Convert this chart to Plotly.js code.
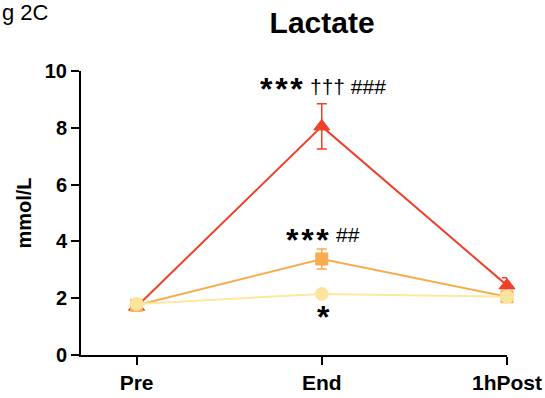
<!DOCTYPE html>
<html>
<head>
<meta charset="utf-8">
<script src="https://cdn.plot.ly/plotly-3.0.1.min.js"></script>
<style>html,body{margin:0;padding:0;background:#fff;}#chart{width:545px;height:398px;}</style>
</head>
<body>
<div id="chart"></div>
<script>
const categories = ["Pre", "End", "1hPost"];
const redValues = [1.7, 8.05, 2.45];
const redErrors = [0.08, 0.8, 0.27];
const orangeValues = [1.75, 3.38, 2.05];
const orangeErrors = [0.08, 0.35, 0.1];
const yellowValues = [1.8, 2.15, 2.05];
const yellowErrors = [0.08, 0.13, 0.08];
const yTicks = [0, 2, 4, 6, 8, 10];
// significance marks: stars part and other symbols part
const sigStars = ["***", "***", "*"];
const sigStarX = [0.909, 1.05, 1.007];
const sigStarY = [9.38, 4.05, 1.33];
const sigStarAnchor = ["right", "right", "center"];
const sigMarks = ["††† ###", "##"];
const sigMarkX = [0.926, 1.066];
const sigMarkY = [9.44, 4.23];

const idx = categories.map((c, i) => i);

function series(vals, errs, color, fill, symbol, size) {
  return {
    x: idx, y: vals, type: "scatter", mode: "lines+markers",
    line: {color: color, width: 2},
    marker: {symbol: symbol, size: size, color: fill, line: {color: color, width: 1}},
    error_y: {type: "data", array: errs, visible: true, color: color, thickness: 1.5, width: 5},
    cliponaxis: false, showlegend: false, hoverinfo: "skip"
  };
}

const data = [
  series(redValues, redErrors, "#EF4129", "#EF4129", "triangle-up", 14),
  series(orangeValues, orangeErrors, "#F9AC4E", "#F9AC4E", "square", 12),
  series(yellowValues, yellowErrors, "#FCE8A0", "#FDE49C", "circle", 13)
];

const FONT = "Liberation Sans, Arial, sans-serif";
const annotations = [];
sigStars.forEach((t, i) => annotations.push({
  x: sigStarX[i], y: sigStarY[i], xref: "x", yref: "y",
  text: "<b>" + t.split("").join("\u200A") + "</b>", showarrow: false,
  xanchor: sigStarAnchor[i], yanchor: "middle", font: {family: FONT, size: 32, color: "#000"}
}));
sigMarks.forEach((t, i) => annotations.push({
  x: sigMarkX[i], y: sigMarkY[i], xref: "x", yref: "y", text: t, showarrow: false,
  xanchor: "left", yanchor: "middle", font: {family: FONT, size: 21, color: "#000"}
}));
annotations.push({x: -0.19, y: 1.205, xref: "paper", yref: "paper", text: "g 2C", showarrow: false,
  xanchor: "left", yanchor: "middle", font: {family: FONT, size: 22, color: "#000"}});

const layout = {
  width: 545, height: 398,
  margin: {l: 81, r: 38, t: 71, b: 43},
  paper_bgcolor: "#fff", plot_bgcolor: "#fff",
  title: {text: "<b>Lactate</b>", x: 0.591, xanchor: "center", y: 0.943, yanchor: "middle",
          font: {family: FONT, size: 30, color: "#000"}},
  xaxis: {
    type: "linear", range: [-0.3, 2], tickvals: idx, ticktext: categories,
    showgrid: false, zeroline: false, showline: true, linecolor: "#000", linewidth: 2,
    ticks: "outside", ticklen: 8, tickwidth: 2, tickcolor: "#000",
    tickfont: {family: FONT, size: 21, color: "#000", weight: "bold"}
  },
  yaxis: {
    range: [0, 10], tickvals: yTicks,
    showgrid: false, zeroline: false, showline: true, linecolor: "#000", linewidth: 2,
    ticks: "outside", ticklen: 8, tickwidth: 2, tickcolor: "#000",
    tickfont: {family: FONT, size: 20, color: "#000", weight: "bold"},
    title: {text: "<b>mmol/L</b>", standoff: 8, font: {family: FONT, size: 20, color: "#000"}}
  },
  annotations: annotations
};

Plotly.newPlot("chart", data, layout, {displayModeBar: false, staticPlot: true});
</script>
</body>
</html>
